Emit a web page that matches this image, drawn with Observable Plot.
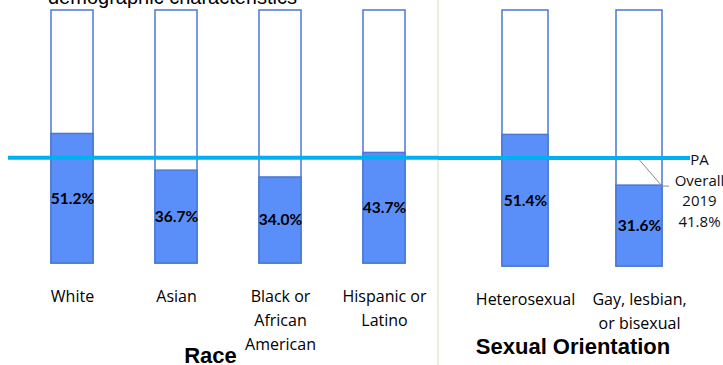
<!DOCTYPE html>
<html>
<head>
<meta charset="utf-8">
<script src="https://cdn.jsdelivr.net/npm/d3@7"></script>
<script src="https://cdn.jsdelivr.net/npm/@observablehq/plot@0.6"></script>
<style>
  html, body { margin: 0; padding: 0; background: #fff; }
  #wrap { position: relative; width: 723px; height: 365px; overflow: hidden; background: #fff; }
  #wrap svg { position: absolute; top: 0; overflow: visible; }
  #title { position: absolute; left: 48px; top: -13px; font-family: "Liberation Sans", Arial, sans-serif; font-size: 20px; line-height: 20px; color: #000; white-space: nowrap; }
  #sep { position: absolute; left: 437px; top: 0; width: 2px; height: 365px; background: #eeebe3; }
</style>
</head>
<body>
<div id="wrap">
  <div id="title">demographic characteristics</div>
  <div id="sep"></div>
</div>
<script>
// ---- data ----
const raceCats = ["White", "Asian", "Black or African American", "Hispanic or Latino"];
const raceTicks = ["White", "Asian", "Black or\nAfrican\nAmerican", "Hispanic or\nLatino"];
const raceVals = [51.2, 36.7, 34.0, 43.7];

const orientCats = ["Heterosexual", "Gay, lesbian, or bisexual"];
const orientTicks = ["Heterosexual", "Gay, lesbian,\nor bisexual"];
const orientVals = [51.4, 31.6];

const paOverall = 41.8;
const overallText = "PA\nOverall\n2019\n41.8%";
const groupTitles = ["Race", "Sexual Orientation"];
const fullPct = 100;

// ---- styling ----
const barFill = "#5a8ef8";
const barStroke = "#4a78d2";
const lineColor = "#00b0f0";

function panel({cats, ticks, vals, title, width, marginLeft, marginRight, marginBottom,
                padding, align, titleDx, titleDy, ruleDy, withNote}) {
  const rows = cats.map((c, i) => ({cat: c, v: vals[i]}));
  const marks = [
    Plot.barY(rows, {x: "cat", y: () => fullPct, fill: "white", stroke: barStroke, strokeWidth: 1.5}),
    Plot.barY(rows, {x: "cat", y: "v", fill: barFill, stroke: barStroke, strokeWidth: 1.5}),
  ];
  if (withNote) {
    marks.push(function (index, scales, values, dims) {
      const x = scales.x;
      let bw = typeof x.bandwidth === "function" ? x.bandwidth() : x.bandwidth;
      if (bw == null && scales.scales && scales.scales.x) bw = scales.scales.x.scale.bandwidth();
      const y = scales.y;
      const gi = cats.length - 1;
      const x1 = x(cats[0]) + bw / 2;
      const x2 = x(cats[gi]) + bw / 2;
      const x3 = x(cats[gi]) + bw;
      const yl = y(paOverall) + 0.5;
      const yb = y(vals[gi]) + 1;
      const p = d3.create("svg:path")
        .attr("d", `M${x1},${yl}L${x2},${yl}L${x3},${yb}L${x3 + 7},${yb}`)
        .attr("fill", "none").attr("stroke", "#8a8a8a").attr("stroke-width", 1);
      return p.node();
    });
  }
  marks.push(
    Plot.ruleY([paOverall], {stroke: lineColor, strokeWidth: 4, dy: ruleDy}),
    Plot.text(rows, {x: "cat", y: d => d.v / 2, text: d => d.v.toFixed(1) + "%",
      fontFamily: "Lato", fontWeight: "bold", fontSize: 15.5, fill: "#000"}),
    Plot.axisX({tickSize: 0, tickPadding: 21, label: null, fontSize: 16, lineHeight: 1.5,
      fontFamily: "Open Sans", fill: "#000",
      tickFormat: d => ticks[cats.indexOf(d)]}),
    Plot.text([title], {frameAnchor: "bottom", text: d => d, dx: titleDx, dy: titleDy,
      lineAnchor: "middle", fontFamily: "Liberation Sans", fontWeight: "bold", fontSize: 22, fill: "#000"})
  );
  if (withNote) {
    marks.push(Plot.text([overallText], {y: () => paOverall, frameAnchor: "right", text: d => d,
      dx: 9, dy: -9, lineAnchor: "top", textAnchor: "middle", lineHeight: 1.37,
      fontFamily: "Open Sans", fontSize: 15, fill: "#111"}));
  }
  return Plot.plot({
    width, height: 365,
    marginTop: 10, marginBottom, marginLeft, marginRight,
    x: {domain: cats, paddingInner: padding[0], paddingOuter: padding[1], align, axis: null},
    y: {domain: [0, fullPct], axis: null},
    style: {fontFamily: "Open Sans", fontSize: "16px", background: "transparent", overflow: "visible"},
    marks
  });
}

const p1 = panel({cats: raceCats, ticks: raceTicks, vals: raceVals, title: groupTitles[0],
  width: 438, marginLeft: 8, marginRight: 0, marginBottom: 102,
  padding: [0.597, 0.358], align: 0.565, titleDx: -13, titleDy: 92, ruleDy: 0, withNote: false});
p1.style.left = "0px";

const p2 = panel({cats: orientCats, ticks: orientTicks, vals: orientVals, title: groupTitles[1],
  width: 285, marginLeft: 0, marginRight: 33, marginBottom: 99,
  padding: [0.594, 0.3975], align: 0.703, titleDx: 8.5, titleDy: 80, ruleDy: -1.4, withNote: true});
p2.style.left = "438px";

const wrap = document.getElementById("wrap");
wrap.appendChild(p1);
wrap.appendChild(p2);
</script>
</body>
</html>
